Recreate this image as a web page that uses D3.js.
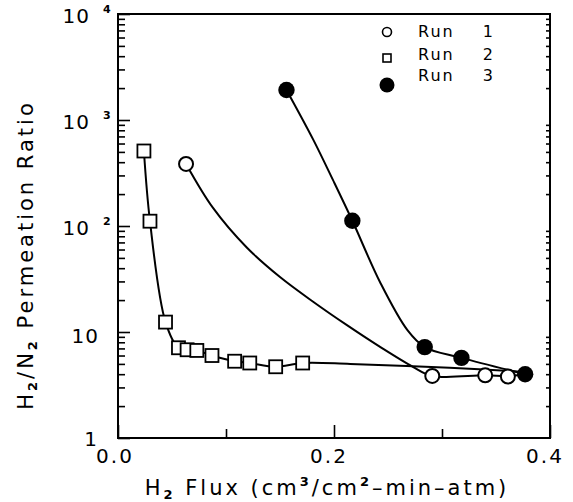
<!DOCTYPE html>
<html>
<head>
<meta charset="utf-8">
<script src="https://cdn.jsdelivr.net/npm/d3@7"></script>
<style>
  body { margin: 0; background: #fff; }
  svg { display: block; font-family: "DejaVu Sans", sans-serif; }
</style>
</head>
<body>
<svg id="chart" width="573" height="502"></svg>
<script>
// data
const runNames = ["Run", "Run", "Run"];
const runNums = ["1", "2", "3"];

const run1X = [0.063, 0.291, 0.340, 0.361];
const run1Y = [385, 3.85, 3.9, 3.8];
const run2X = [0.024, 0.0296, 0.044, 0.056, 0.064, 0.073, 0.087, 0.108, 0.122, 0.146, 0.171];
const run2Y = [510, 111, 12.4, 7.1, 6.8, 6.7, 6.0, 5.3, 5.1, 4.7, 5.1];
const run3X = [0.156, 0.217, 0.284, 0.318, 0.377];
const run3Y = [1920, 112, 7.2, 5.7, 4.0];

// smooth fitted curves as drawn in the figure
const fit1X = [0.063, 0.088, 0.119, 0.150, 0.181, 0.212, 0.243, 0.273, 0.291, 0.340, 0.361, 0.374];
const fit1Y = [385, 148, 63, 33, 19.2, 11.6, 7.2, 4.7, 3.85, 3.9, 3.85, 3.95];
const fit2X = [0.024, 0.0296, 0.044, 0.056, 0.064, 0.073, 0.087, 0.108, 0.122, 0.146, 0.171, 0.215, 0.307, 0.378];
const fit2Y = [510, 111, 12.4, 7.1, 6.8, 6.7, 6.0, 5.3, 5.1, 4.7, 5.1, 5.0, 4.6, 4.2];
const fit3X = [0.156, 0.181, 0.199, 0.217, 0.243, 0.268, 0.284, 0.318, 0.377];
const fit3Y = [1920, 646, 272, 112, 29, 10.4, 7.2, 5.7, 4.0];

const xMajor = [0, 0.2, 0.4];
const xMajorLabels = ["0.0", "0.2", "0.4"];
const xMinor = [0.1, 0.3];
const yDecades = [1, 10, 100, 1000, 10000];
const yBase = ["1", "10", "10", "10", "10"];
const yExp = ["", "", "2", "3", "4"];

const svg = d3.select("#chart");
const pLeft = 118, pRight = 550, pTop = 14, pBottom = 438;

const x = d3.scaleLinear().domain([0, 0.4]).range([pLeft, pRight]);
const y = d3.scaleLog().domain([1, 10000]).range([pBottom, pTop]);

let yMinor = [];
yDecades.slice(0, -1).forEach(d => {
  for (let k = 2; k <= 9; k++) yMinor.push(d * k);
});

// axes, ticks point inward
const g = svg.append("g");
g.append("g").attr("transform", `translate(${pLeft},0)`)
  .call(d3.axisLeft(y).tickValues(yDecades).tickSize(-12).tickFormat(""));
g.append("g").attr("transform", `translate(${pLeft},0)`)
  .call(d3.axisLeft(y).tickValues(yMinor).tickSize(-7).tickFormat(""));
g.append("g").attr("transform", `translate(${pRight},0)`)
  .call(d3.axisRight(y).tickValues(yMinor).tickSize(-4).tickFormat(""));
g.append("g").attr("transform", `translate(0,${pBottom})`)
  .call(d3.axisBottom(x).tickValues(xMajor).tickSize(-13).tickFormat(""));
g.append("g").attr("transform", `translate(0,${pBottom})`)
  .call(d3.axisBottom(x).tickValues(xMinor).tickSize(-9).tickFormat(""));
g.selectAll(".domain").remove();
g.selectAll(".tick line").attr("stroke", "#000").attr("stroke-width", 1.6);

svg.append("rect")
  .attr("x", pLeft).attr("y", pTop)
  .attr("width", pRight - pLeft).attr("height", pBottom - pTop)
  .attr("fill", "none").attr("stroke", "#000").attr("stroke-width", 2);

// y tick labels
yDecades.forEach((d, i) => {
  const t = svg.append("text")
    .attr("text-anchor", "end")
    .attr("font-size", 20)
    .attr("letter-spacing", 1);
  if (yExp[i]) {
    t.attr("x", 90).attr("y", y(d) + 9).text(yBase[i]);
    svg.append("text")
      .attr("x", 103).attr("y", y(d) - 1)
      .attr("font-size", 11).attr("font-weight", "bold")
      .text(yExp[i]);
  } else if (d === 1) {
    t.attr("x", 98).attr("y", y(d) + 8).text(yBase[i]);
  } else {
    t.attr("x", 99).attr("y", y(d) + 11).text(yBase[i]);
  }
});

// x tick labels
xMajor.forEach((d, i) => {
  svg.append("text")
    .attr("x", x(d) - 5 + (i === 0 ? 2 : 0)).attr("y", 463)
    .attr("text-anchor", "middle")
    .attr("font-size", 20)
    .attr("letter-spacing", 2)
    .text(xMajorLabels[i]);
});

// axis titles
const xt = svg.append("text")
  .attr("x", 327).attr("y", 495)
  .attr("text-anchor", "middle")
  .attr("font-size", 21)
  .attr("letter-spacing", 3);
xt.append("tspan").text("H");
xt.append("tspan").attr("font-size", 13).attr("font-weight", "bold").attr("dy", 4).text("2");
xt.append("tspan").attr("dy", -4).text("  Flux  (cm");
xt.append("tspan").attr("font-size", 13).attr("font-weight", "bold").attr("dy", -9).text("3");
xt.append("tspan").attr("dy", 9).text("/cm");
xt.append("tspan").attr("font-size", 13).attr("font-weight", "bold").attr("dy", -9).text("2");
xt.append("tspan").attr("dy", 9).text("\u2013min\u2013atm)");

const yt = svg.append("text")
  .attr("transform", "translate(33,255) rotate(-90)")
  .attr("text-anchor", "middle")
  .attr("font-size", 21)
  .attr("letter-spacing", 3);
yt.append("tspan").text("H");
yt.append("tspan").attr("font-size", 13).attr("font-weight", "bold").attr("dy", 4).text("2");
yt.append("tspan").attr("dy", -4).text("/N");
yt.append("tspan").attr("font-size", 13).attr("font-weight", "bold").attr("dy", 4).text("2");
yt.append("tspan").attr("dy", -4).text("  Permeation  Ratio");

// curves
const line = d3.line()
  .x(d => x(d[0]))
  .y(d => y(d[1]))
  .curve(d3.curveCatmullRom.alpha(0.5));

[[fit1X, fit1Y], [fit2X, fit2Y], [fit3X, fit3Y]].forEach(([xs, ys]) => {
  svg.append("path")
    .datum(xs.map((v, i) => [v, ys[i]]))
    .attr("d", line)
    .attr("fill", "none")
    .attr("stroke", "#000")
    .attr("stroke-width", 2);
});

// markers
svg.selectAll(".run2")
  .data(run2X.map((v, i) => [v, run2Y[i]]))
  .join("rect")
  .attr("x", d => x(d[0]) - 6.5)
  .attr("y", d => y(d[1]) - 6.5)
  .attr("width", 13).attr("height", 13)
  .attr("fill", "#fff").attr("stroke", "#000").attr("stroke-width", 1.8);

svg.selectAll(".run1")
  .data(run1X.map((v, i) => [v, run1Y[i]]))
  .join("circle")
  .attr("cx", d => x(d[0]))
  .attr("cy", d => y(d[1]))
  .attr("r", 7)
  .attr("fill", "#fff").attr("stroke", "#000").attr("stroke-width", 2);

svg.selectAll(".run3")
  .data(run3X.map((v, i) => [v, run3Y[i]]))
  .join("circle")
  .attr("cx", d => x(d[0]))
  .attr("cy", d => y(d[1]))
  .attr("r", 8.2)
  .attr("fill", "#000");

// legend
const legY = [32, 58, 85];
const legTextY = [37, 60, 81];
svg.append("circle").attr("cx", 387).attr("cy", legY[0]).attr("r", 4.5)
  .attr("fill", "#fff").attr("stroke", "#000").attr("stroke-width", 1.6);
svg.append("rect").attr("x", 383).attr("y", legY[1] - 4).attr("width", 8).attr("height", 8)
  .attr("fill", "#fff").attr("stroke", "#000").attr("stroke-width", 1.6);
svg.append("circle").attr("cx", 387).attr("cy", legY[2]).attr("r", 7.5).attr("fill", "#000");

runNames.forEach((n, i) => {
  svg.append("text").attr("x", 418).attr("y", legTextY[i])
    .attr("font-size", 16).attr("letter-spacing", 2).text(n);
  svg.append("text").attr("x", 493).attr("y", legTextY[i])
    .attr("text-anchor", "end")
    .attr("font-size", 16).text(runNums[i]);
});
</script>
</body>
</html>
